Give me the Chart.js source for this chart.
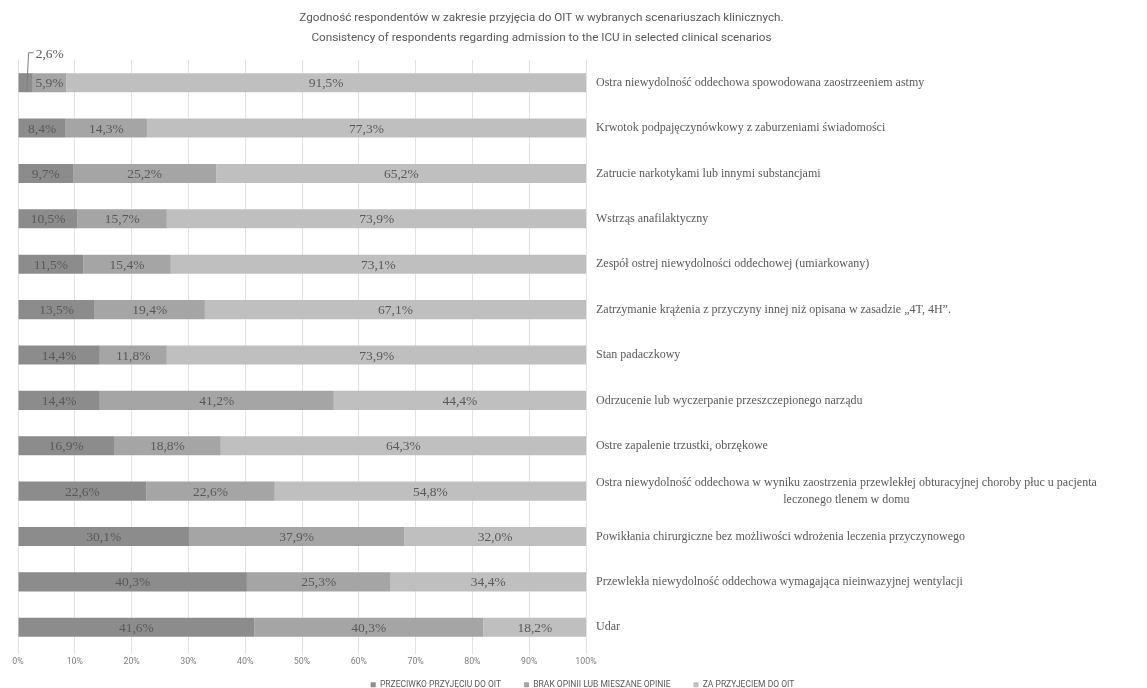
<!DOCTYPE html>
<html>
<head>
<meta charset="utf-8">
<script src="https://cdn.jsdelivr.net/npm/chart.js@4"></script>
<style>
  body { margin: 0; background: #fff; }
  #wrap { width: 1147px; height: 688px; }
</style>
</head>
<body>
<div id="wrap"><canvas id="chart"></canvas></div>
<script>
// scenarios, top to bottom
const categories = [
  "Ostra niewydolność oddechowa spowodowana zaostrzeeniem astmy",
  "Krwotok podpajęczynówkowy z zaburzeniami świadomości",
  "Zatrucie narkotykami lub innymi substancjami",
  "Wstrząs anafilaktyczny",
  "Zespół ostrej niewydolności oddechowej (umiarkowany)",
  "Zatrzymanie krążenia z przyczyny innej niż opisana w zasadzie „4T, 4H”.",
  "Stan padaczkowy",
  "Odrzucenie lub wyczerpanie przeszczepionego narządu",
  "Ostre zapalenie trzustki, obrzękowe",
  ["Ostra niewydolność oddechowa w wyniku zaostrzenia przewlekłej obturacyjnej choroby płuc u pacjenta", "leczonego tlenem w domu"],
  "Powikłania chirurgiczne bez możliwości wdrożenia leczenia przyczynowego",
  "Przewlekła niewydolność oddechowa wymagająca nieinwazyjnej wentylacji",
  "Udar"
];
const seriesNames = ["PRZECIWKO PRZYJĘCIU DO OIT", "BRAK OPINII LUB MIESZANE OPINIE", "ZA PRZYJĘCIEM DO OIT"];
const against = [2.6, 8.4, 9.7, 10.5, 11.5, 13.5, 14.4, 14.4, 16.9, 22.6, 30.1, 40.3, 41.6];
const noOpinion = [5.9, 14.3, 25.2, 15.7, 15.4, 19.4, 11.8, 41.2, 18.8, 22.6, 37.9, 25.3, 40.3];
const inFavour = [91.5, 77.3, 65.2, 73.9, 73.1, 67.1, 73.9, 44.4, 64.3, 54.8, 32.0, 34.4, 18.2];
const xTicks = [0, 10, 20, 30, 40, 50, 60, 70, 80, 90, 100];

const colors = ["#8c8c8c", "#a5a5a6", "#bfbfc0"];
const serif = '"Liberation Serif", "DejaVu Serif", serif';
const sans = 'Roboto, sans-serif';
const fmt = v => v.toFixed(1).replace(".", ",") + "%";

// value labels inside the segments (callout when segment is too small)
const valueLabels = {
  id: "valueLabels",
  afterDatasetsDraw(chart) {
    const ctx = chart.ctx;
    ctx.save();
    ctx.font = "13.5px " + serif;
    ctx.fillStyle = "#595959";
    chart.data.datasets.forEach((ds, di) => {
      chart.getDatasetMeta(di).data.forEach((bar, i) => {
        const v = ds.data[i];
        const mid = (bar.x + bar.base) / 2;
        if (v >= 5) {
          ctx.textAlign = "center";
          ctx.textBaseline = "middle";
          ctx.fillText(fmt(v), mid, bar.y + 1);
        } else {
          const top = bar.y - 30;
          ctx.strokeStyle = "#7f7f7f";
          ctx.lineWidth = 1;
          ctx.beginPath();
          ctx.moveTo(mid + 1, bar.y + 9);
          ctx.lineTo(mid + 3, top);
          ctx.lineTo(mid + 8, top);
          ctx.stroke();
          ctx.textAlign = "left";
          ctx.textBaseline = "middle";
          ctx.fillText(fmt(v), mid + 10, top + 2);
        }
      });
    });
    ctx.restore();
  }
};

// category names to the right of the plot
const categoryLabels = {
  id: "categoryLabels",
  afterDraw(chart) {
    const ctx = chart.ctx, y = chart.scales.y;
    const x0 = chart.chartArea.right + 10;
    ctx.save();
    ctx.font = "12px " + serif;
    ctx.fillStyle = "#595959";
    ctx.textBaseline = "middle";
    categories.forEach((lab, i) => {
      const yc = y.getPixelForValue(i);
      if (Array.isArray(lab)) {
        const w = ctx.measureText(lab[0]).width;
        ctx.textAlign = "left";
        ctx.fillText(lab[0], x0, yc - 8);
        ctx.textAlign = "center";
        ctx.fillText(lab[1], x0 + w / 2, yc + 9);
      } else {
        ctx.textAlign = "left";
        ctx.fillText(lab, x0, yc);
      }
    });
    ctx.restore();
  }
};

// the title sits a bit left of the page centre
const titleShift = {
  id: "titleShift",
  afterLayout(chart) {
    const t = chart.titleBlock;
    if (t) { t.left -= 18; t.right -= 64; }
  }
};

new Chart(document.getElementById("chart"), {
  type: "bar",
  plugins: [valueLabels, categoryLabels, titleShift],
  data: {
    labels: categories,
    datasets: [
      { label: seriesNames[0], data: against, backgroundColor: colors[0] },
      { label: seriesNames[1], data: noOpinion, backgroundColor: colors[1] },
      { label: seriesNames[2], data: inFavour, backgroundColor: colors[2] }
    ]
  },
  options: {
    indexAxis: "y",
    responsive: true,
    maintainAspectRatio: false,
    animation: false,
    layout: { padding: { left: 18, right: 0, top: 0, bottom: -11 } },
    datasets: { bar: { barPercentage: 0.42, categoryPercentage: 1 } },
    scales: {
      x: {
        stacked: true,
        min: 0,
        max: 100,
        afterBuildTicks: s => { s.ticks = xTicks.map(v => ({ value: v })); },
        grid: { color: "#e3e3e3", drawTicks: true, tickLength: 4 },
        border: { display: false },
        ticks: {
          callback: v => v + "%",
          color: "#7f7f7f",
          font: { size: 8.8, family: sans },
          padding: 3
        }
      },
      y: {
        stacked: true,
        position: "right",
        grid: { display: false },
        border: { display: false },
        ticks: { display: false },
        afterFit: s => { s.width = 561; }
      }
    },
    plugins: {
      title: {
        display: true,
        text: [
          "Zgodność respondentów w zakresie przyjęcia do OIT w wybranych scenariuszach klinicznych.",
          "Consistency of respondents regarding admission to the ICU in selected clinical scenarios"
        ],
        color: "#595959",
        font: { size: 11.7, weight: "normal", family: sans, lineHeight: 1.71 },
        padding: { top: 8, bottom: 12 }
      },
      legend: {
        position: "bottom",
        labels: {
          color: "#595959",
          boxWidth: 5,
          boxHeight: 5,
          padding: 10,
          font: { size: 8.5, family: sans },
          generateLabels: chart => {
            const items = Chart.defaults.plugins.legend.labels.generateLabels(chart);
            items.forEach((it, i) => { if (i < items.length - 1) it.text += "\u2003\u2002"; });
            return items;
          }
        }
      },
      tooltip: { enabled: false }
    }
  }
});
</script>
</body>
</html>
